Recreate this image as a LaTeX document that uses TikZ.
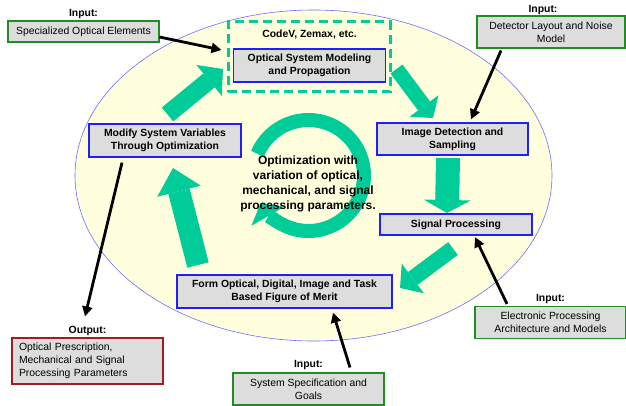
\documentclass[tikz,border=0pt]{standalone}
\usepackage{fontspec}
\setmainfont{Liberation Sans}
\usetikzlibrary{arrows.meta,positioning}
\definecolor{boxgray}{RGB}{221,221,221}
\definecolor{boxblue}{RGB}{30,30,255}
\definecolor{srcgreen}{RGB}{34,139,34}
\definecolor{resred}{RGB}{160,30,30}
\definecolor{loopgreen}{RGB}{0,204,153}
\definecolor{ringfill}{RGB}{255,255,222}
\definecolor{ringblue}{RGB}{110,110,255}

\begin{document}
\fontsize{10.4}{12.8}\selectfont
\begin{tikzpicture}[x=1pt,y=1pt,
  stagebox/.style={draw=boxblue,line width=1.3pt,fill=boxgray,font=\bfseries,
                   align=center,minimum width=152pt,minimum height=33pt,inner sep=1pt},
  inputbox/.style={draw=srcgreen,line width=1.1pt,fill=boxgray,
                   align=center,minimum width=151pt,minimum height=32pt,inner sep=1pt},
  outputbox/.style={draw=resred,line width=1.1pt,fill=boxgray,align=left,
                    text width=137pt,inner xsep=7pt,minimum height=46pt},
  tagtext/.style={font=\bfseries,inner sep=1pt},
  toolbox/.style={draw=loopgreen,dash pattern=on 9pt off 5pt,line width=3pt,
                  minimum width=162pt,minimum height=70pt},
  feedline/.style={-{Triangle[length=10pt,width=10pt]},line width=2.8pt},
  bigflow/.style={draw=loopgreen,line width=18pt,
                  -{Triangle[length=18pt,width=40pt,line width=0pt]}}
]
\useasboundingbox (0,0) rectangle (626,405);

% background loop
\draw[draw=ringblue,fill=ringfill,line width=0.6pt] (313.5,229.5) ellipse [x radius=238.5,y radius=165.5];

% optimization ring
\coordinate (hub) at (308.5,229.5);
\draw[loopgreen,line width=14pt,-{Triangle[length=15pt,width=38pt,line width=0pt]}]
  ([shift={(157:55.5)}]hub) arc[start angle=157,end angle=-150,radius=55.5];

% block arrows
\coordinate (g1a) at (167.5,290.5); \coordinate (g1b) at (223,336);
\coordinate (g2a) at (396.5,336);   \coordinate (g2b) at (433,287);
\coordinate (g3a) at (448,247);     \coordinate (g3b) at (447,192);
\coordinate (g4a) at (453,156.5);   \coordinate (g4b) at (400,117);
\coordinate (g5a) at (198,140);     \coordinate (g5b) at (173,237);
\draw[bigflow] (g1a) -- (g1b);
\draw[bigflow,line width=15pt,-{Triangle[length=15pt,width=36pt,line width=0pt]}] (g2a) -- (g2b);
\draw[bigflow,line width=24pt,-{Triangle[length=13pt,width=47pt,line width=0pt]}] (g3a) -- (g3b);
\draw[bigflow,line width=16pt,-{Triangle[length=16pt,width=37pt,line width=0pt]}] (g4a) -- (g4b);
\draw[bigflow,line width=22pt,-{Triangle[length=24pt,width=45pt,line width=0pt]}] (g5a) -- (g5b);

% stages
\node[toolbox] (tools) at (309,348) {};
\node[stagebox] (optical) at (309.5,339.5) {Optical System Modeling\\and Propagation};
\node[tagtext,above=8pt of optical] (codev) {CodeV, Zemax, etc.};
\node[stagebox,minimum width=151pt,minimum height=32pt] (detect) at (452.5,266) {Image Detection and\\Sampling};
\node[stagebox,minimum height=21pt] (signal) at (456,180.5) {Signal Processing};
\node[stagebox,minimum width=215pt] (merit) at (284.5,113.5) {Form Optical, Digital, Image and Task\\Based Figure of Merit};
\node[stagebox] (modify) at (165,264.5) {Modify System Variables\\Through Optimization};
\node[font=\fontsize{12}{15}\selectfont\bfseries,align=center] (goal) at (308,221.5)
  {Optimization with\\variation of optical,\\mechanical, and signal\\processing parameters.};

% inputs and output
\node[inputbox,minimum height=21pt,label={[tagtext,label distance=1pt]above:Input:}] (elements) at (83.5,373.5) {Specialized Optical Elements};
\node[inputbox,minimum width=148pt,label={[tagtext,xshift=-8pt]above:Input:}] (layout) at (551,373) {Detector Layout and Noise\\Model};
\node[inputbox,label={[tagtext,label distance=1pt]above:Input:}] (electronic) at (550.5,82.5) {Electronic Processing\\Architecture and Models};
\node[inputbox,label={[tagtext,label distance=2pt]above:Input:}] (spec) at (308.5,16) {System Specification and\\Goals};
\node[outputbox,label={[tagtext,label distance=1pt]above:Output:}] (output) at (87.5,44) {Optical Prescription,\\Mechanical and Signal\\Processing Parameters};

\draw[feedline] ([yshift=-5.5pt]elements.east) -- ([xshift=-5pt,yshift=7pt]tools.west);
\draw[feedline] ([xshift=-50pt,yshift=-2pt]layout.south) -- ([xshift=18.5pt,yshift=3pt]detect.north);
\draw[feedline] ([xshift=-43.5pt,yshift=2pt]electronic.north) -- ([xshift=19pt,yshift=-1.5pt]signal.south);
\draw[feedline] ([xshift=41.5pt,yshift=5pt]spec.north) -- ([xshift=48.5pt,yshift=-4pt]merit.south);
\draw[feedline] ([xshift=-43pt,yshift=-5pt]modify.south) -- ([xshift=-2.5pt,yshift=21pt]output.north);
\end{tikzpicture}
\end{document}
